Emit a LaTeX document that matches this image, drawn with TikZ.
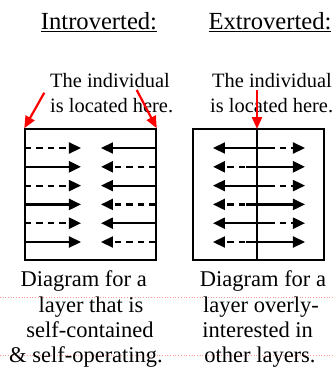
\documentclass[tikz,border=0pt]{standalone}
\usepackage{fontspec}
\setmainfont{Liberation Serif}
\usetikzlibrary{arrows.meta}
\begin{document}
\begin{tikzpicture}[x=1pt,y=-1pt,
  boxst/.style={draw, line width=1.5pt, minimum width=131pt, minimum height=131pt, inner sep=0pt},
  arr/.style={line width=2.2pt, -{Triangle[length=12pt,width=11pt]}},
  dsh/.style={dash pattern=on 6.5pt off 5pt},
  redarr/.style={draw=red, line width=2.2pt, -{Triangle[length=12pt,width=10pt]}},
  headtxt/.style={anchor=base, inner sep=0pt, font=\fontsize{24.6}{28}\selectfont},
  notetxt/.style={anchor=base west, inner sep=0pt, font=\fontsize{20.4}{24}\selectfont},
  captxt/.style={anchor=base, inner sep=0pt, font=\fontsize{22.5}{25}\selectfont},
  guide/.style={draw=red!40, dotted, line width=0.7pt}
  ]
\useasboundingbox (0,0) rectangle (334,368);

% faint guide lines
\coordinate (g1a) at (0,297.7); \coordinate (g1b) at (334,297.7);
\coordinate (g2a) at (0,355); \coordinate (g2b) at (334,355);
\draw[guide] (g1a) -- (g1b);
\draw[guide] (g2a) -- (g2b);

% headings
\node[headtxt] (h1) at (99,29) {\underline{Introverted:}};
\node[headtxt] (h2) at (270,29) {\underline{Extroverted:}};

% notes
\node[notetxt] (n1a) at (50,87) {The individual};
\node[notetxt] (n1b) at (50,112) {is located here.};
\node[notetxt] (n2a) at (212,87) {The individual};
\node[notetxt] (n2b) at (210,112) {is located here.};

% boxes
\node[boxst] (L) at (90.5,194.5) {};
\node[boxst] (R) at (258.5,194.5) {};
\coordinate (Rt) at (257,129);
\coordinate (Rb) at (257,260);
\draw[line width=1.5pt] (Rt) -- (Rb);

% arrow end points
\foreach \i in {0,...,5} {
  \pgfmathsetmacro\yy{148+18.8*\i}
  \coordinate (la\i) at (25,\yy);
  \coordinate (lb\i) at (81,\yy);
  \coordinate (ra\i) at (156,\yy);
  \coordinate (rb\i) at (101,\yy);
  \coordinate (xs\i) at (270,\yy);
  \coordinate (xm\i) at (257,\yy);
  \coordinate (xb\i) at (213,\yy);
  \coordinate (ys\i) at (246,\yy);
  \coordinate (yb\i) at (305,\yy);
}

% even rows
\foreach \i in {0,2,4} {
  \draw[arr,dsh] (la\i) -- (lb\i);
  \draw[arr] (ra\i) -- (rb\i);
  \draw[arr,dsh] (xm\i) -- (yb\i);
  \draw[arr] (xs\i) -- (xb\i);
}
% odd rows
\foreach \i in {1,3,5} {
  \draw[arr] (la\i) -- (lb\i);
  \draw[arr,dsh] (ra\i) -- (rb\i);
  \draw[arr,dsh] (xm\i) -- (xb\i);
  \draw[arr] (ys\i) -- (yb\i);
}

% red arrows
\coordinate (s1) at (44.3,92.7);
\coordinate (s2) at (136.7,90);
\coordinate (s3) at (257,90);
\draw[redarr] (s1) -- (L.north west);
\draw[redarr] (s2) -- (L.north east);
\draw[redarr] (s3) -- (Rt);

% captions
\node[captxt] (c1) at (83.7,286.7) {Diagram for a};
\node[captxt] (c2) at (91,312.3) {layer that is};
\node[captxt] (c3) at (90,337.7) {self-contained};
\node[captxt] (c4) at (86,362.3) {\& self-operating.};
\node[captxt] (d1) at (263,286.7) {Diagram for a};
\node[captxt] (d2) at (261,312.3) {layer overly-};
\node[captxt] (d3) at (257.6,337.7) {interested in};
\node[captxt] (d4) at (260,362.3) {other layers.};
\end{tikzpicture}
\end{document}
